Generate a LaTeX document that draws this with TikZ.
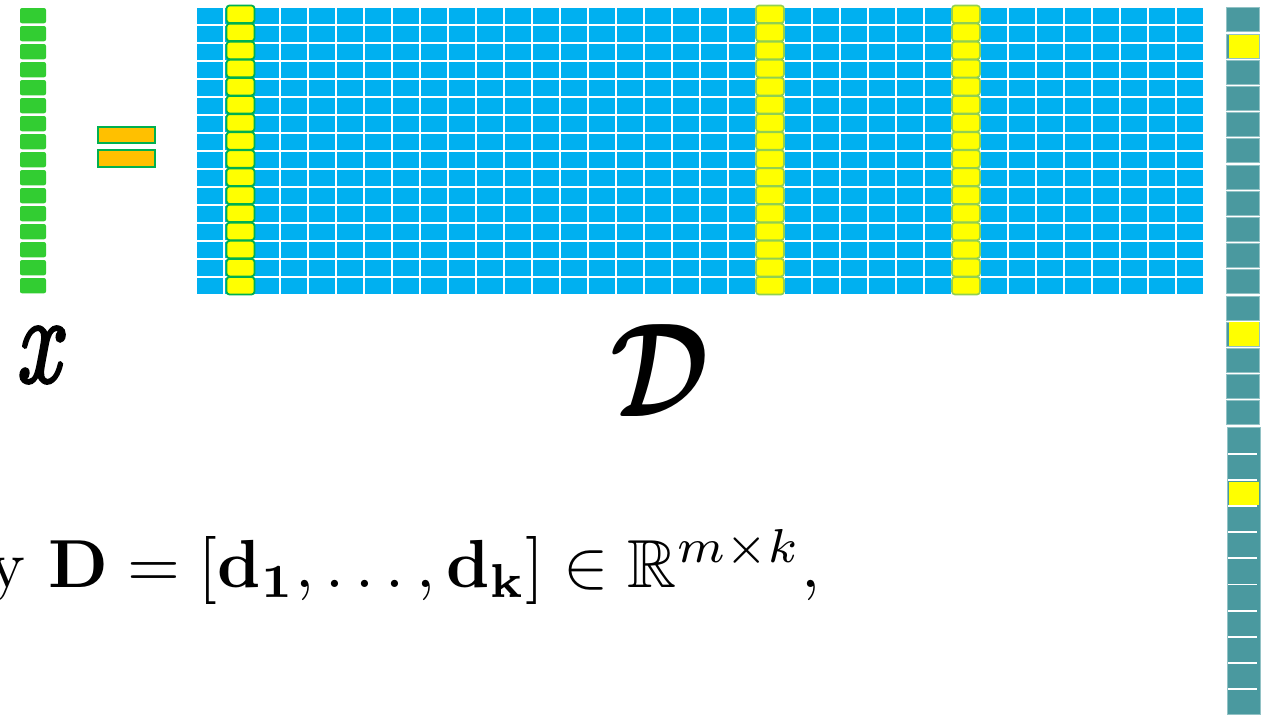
\documentclass[tikz,border=0pt]{standalone}
\usepackage{amsmath}
\usepackage{amssymb}
\usepackage[no-math]{fontspec}
\newfontfamily\heavyx[FakeBold=2.5, ItalicFeatures={FakeBold=2.5}]{Latin Modern Roman}
\definecolor{cellgreen}{RGB}{50,205,50}
\definecolor{cellblue}{RGB}{0,176,240}
\definecolor{cellyellow}{RGB}{255,255,0}
\definecolor{darkborder}{RGB}{0,176,80}
\definecolor{lightborder}{RGB}{146,208,80}
\definecolor{eqorange}{RGB}{255,192,0}
\definecolor{cellteal}{RGB}{74,153,159}
\tikzset{
  xcell/.style={fill=cellgreen, rounded corners=2pt},
  bluecell/.style={fill=cellblue},
  ycelldark/.style={fill=cellyellow, draw=darkborder, line width=1.8pt, rounded corners=3pt},
  ycelllight/.style={fill=cellyellow, draw=lightborder, line width=1.6pt, rounded corners=3pt},
  eqbar/.style={fill=eqorange, draw=darkborder, line width=2pt},
  tealcell/.style={fill=cellteal, draw=cellteal!60!white, line width=0.4pt},
  tealgap/.style={draw=white, line width=1.8pt},
  lbl/.style={inner sep=0pt, text=black, font=\fontsize{10}{12}\selectfont}
}
\begin{document}
\begin{tikzpicture}[x=1pt,y=-1pt]
\useasboundingbox (0,0) rectangle (1266,715);
\clip (0,0) rectangle (1266,715);
\fill[white] (0,0) rectangle (1266,715);
% x vector
\foreach \j in {0,...,15}
  \path[xcell] (20,8+18*\j) rectangle (46,23.3+18*\j);
% equals sign
\path[eqbar] (97.5,126.5) rectangle (154.5,143);
\path[eqbar] (97.5,149.5) rectangle (154.5,166.5);
% dictionary matrix
\foreach \i in {0,...,35}
  \foreach \j in {0,...,15}
    \path[bluecell] (197+28*\i,8+18*\j) rectangle (222.5+28*\i,24+18*\j);
% highlighted atoms
\foreach \j in {0,...,15}
  \path[ycelldark] (226.5,5.5+18.1*\j) rectangle (254.5,23+18.1*\j);
\foreach \c in {20,27}
  \foreach \j in {0,...,15}
    \path[ycelllight] (196+28*\c,5.5+18.1*\j) rectangle (224+28*\c,23+18.1*\j);
% sparse code column
\foreach \j in {0,...,15}
  \path[tealcell] (1226.5,7.5+26.2*\j) rectangle (1259,31.5+26.2*\j);
\fill[cellyellow] (1228.5,34.5) rectangle (1258.5,57.5);
\fill[cellyellow] (1228.5,322) rectangle (1258.5,345.5);
\path[tealcell] (1227,427.5) rectangle (1260,714);
\foreach \y in {454,480,506,532,558,584.5,611,637,663,689}
  \draw[tealgap] (1228,\y) -- (1257,\y);
\fill[cellyellow] (1229,482) rectangle (1258.5,505);
% labels
\node[lbl] (xlabel) at (37.5,355)
  {\scalebox{9.5}[12.5]{\heavyx\itshape x}};
\node[lbl] (dlabel) at (660,371)
  {\scalebox{10.7}[13.4]{$\boldsymbol{\mathcal{D}}$}};
\node[lbl, anchor=base west] (formula) at (-10.5,587)
  {\scalebox{6.8}{y $\mathbf{D} = [\mathbf{d}_{\mathbf{1}}, \dots, \mathbf{d}_{\mathbf{k}}] \in \mathbb{R}^{m\times k},$}};
\end{tikzpicture}
\end{document}
